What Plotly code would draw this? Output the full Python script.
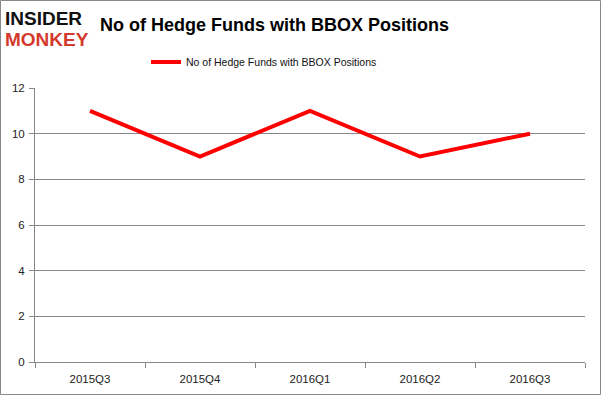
import plotly.graph_objects as go

quarters = ["2015Q3", "2015Q4", "2016Q1", "2016Q2", "2016Q3"]
hedge_funds = [11, 9, 11, 9, 10]
series_name = "No of Hedge Funds with BBOX Positions"

W, H = 601, 395
L, R, T, B = 35, 16, 88, 33
pw, ph = W - L - R, H - T - B

def px_x(x):
    return (x - L) / pw

def px_y(y):
    return (H - B - y) / ph

fig = go.Figure()
fig.add_trace(go.Scatter(
    x=quarters, y=hedge_funds, mode="lines", name=series_name,
    line=dict(color="#ff0000", width=4),
))

fig.update_layout(
    width=W, height=H,
    margin=dict(l=L, r=R, t=T, b=B, autoexpand=False),
    paper_bgcolor="white", plot_bgcolor="white",
    font=dict(family="Liberation Sans, Arial", size=11.5, color="#222"),
    showlegend=True,
    legend=dict(orientation="h", x=px_x(146), xanchor="left", y=px_y(62), yanchor="middle",
                font=dict(size=10.5, color="#111"), itemwidth=30, bgcolor="rgba(0,0,0,0)"),
    title=dict(text="<b>No of Hedge Funds with BBOX Positions</b>",
               x=274.5 / W, xanchor="center", y=1 - 25 / H, yanchor="middle",
               font=dict(size=18, color="#000", family="Liberation Sans, Arial")),
    xaxis=dict(range=[-0.5, 4.5], showline=True, linecolor="#888", linewidth=1,
               ticks="outside", ticklen=5, tickcolor="#888", tickson="boundaries",
               ticklabelstandoff=6,
               showgrid=False, fixedrange=True),
    yaxis=dict(range=[0, 12], dtick=2, showline=True, linecolor="#888", linewidth=1,
               ticks="outside", ticklen=5, tickcolor="#888", ticklabelstandoff=2,
               showgrid=True, gridcolor="#888", gridwidth=1, zeroline=False,
               fixedrange=True),
)

logo_font = "Liberation Sans, Arial"
fig.add_annotation(text="<b>INSIDER</b>", x=px_x(3), y=px_y(18.5), xref="paper", yref="paper",
                   xanchor="left", yanchor="middle", showarrow=False,
                   font=dict(size=19, color="#111", family=logo_font))
fig.add_annotation(text="<b>MONKEY</b>", x=px_x(3), y=px_y(39.5), xref="paper", yref="paper",
                   xanchor="left", yanchor="middle", showarrow=False,
                   font=dict(size=19, color="#d33a2c", family=logo_font))

fig.add_shape(type="rect", xref="paper", yref="paper",
              x0=px_x(0.5), x1=px_x(W - 0.5), y0=px_y(0.5), y1=px_y(H - 0.5),
              line=dict(color="#888", width=1))

fig.write_html("out.html", config={"displayModeBar": False},
               post_script="document.body.style.margin='0';")
